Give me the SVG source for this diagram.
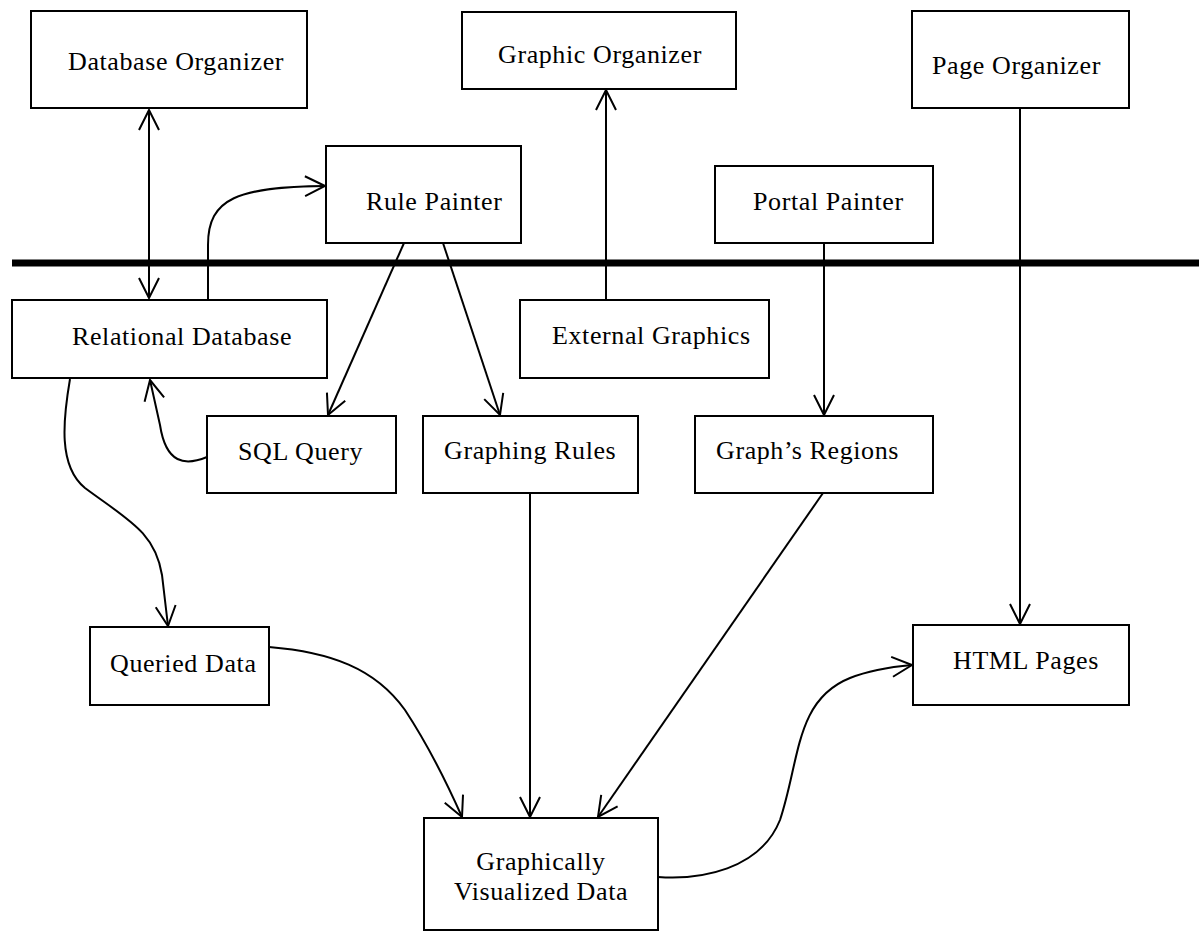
<svg xmlns="http://www.w3.org/2000/svg" width="1199" height="934" viewBox="0 0 1199 934">
<defs>
<style>
.box{fill:#fff;stroke:#000;stroke-width:2}
.lbl{font-family:"Liberation Serif","Times New Roman",serif;font-size:26px;letter-spacing:0.6px;fill:#000}
.c{fill:none;stroke:#000;stroke-width:2}
</style>
<marker id="ah" viewBox="-22 -12 24 24" refX="0" refY="0" markerWidth="24" markerHeight="24" markerUnits="userSpaceOnUse" orient="auto-start-reverse">
<path d="M-20,-10 L0,0 L-20,10" fill="none" stroke="#000" stroke-width="2"/>
</marker>
</defs>
<rect width="1199" height="934" fill="#fff"/>
<line x1="12" y1="263" x2="1199" y2="263" stroke="#000" stroke-width="7"/>
<g id="connectors">
<line class="c" x1="149" y1="110" x2="149" y2="298" marker-start="url(#ah)" marker-end="url(#ah)"/>
<path class="c" d="M208,300 V245 C208,198 238,187 325,186" marker-end="url(#ah)"/>
<line class="c" x1="606" y1="300" x2="606" y2="90" marker-end="url(#ah)"/>
<line class="c" x1="824" y1="243" x2="824" y2="415" marker-end="url(#ah)"/>
<line class="c" x1="1020" y1="108" x2="1020" y2="624" marker-end="url(#ah)"/>
<line class="c" x1="404" y1="243" x2="328" y2="415" marker-end="url(#ah)"/>
<line class="c" x1="443" y1="243" x2="500" y2="415" marker-end="url(#ah)"/>
<path class="c" d="M207,457 C185,466 166,464 160,425 L150,380" marker-end="url(#ah)"/>
<path class="c" d="M70,379 C63,420 58,466 85,488 C128,520 155,532 162,575 L168,626" marker-end="url(#ah)"/>
<path class="c" d="M269,647 C330,652 375,668 405,710 C430,748 450,790 462,817" marker-end="url(#ah)"/>
<line class="c" x1="530" y1="493" x2="530" y2="817" marker-end="url(#ah)"/>
<line class="c" x1="823" y1="493" x2="598" y2="817" marker-end="url(#ah)"/>
<path class="c" d="M658,877 C700,880 760,870 780,820 C800,760 795,700 850,678 C870,670 890,667 912,665" marker-end="url(#ah)"/>
</g>
<g id="database-organizer"><rect class="box" x="31" y="11" width="276" height="97"/><text class="lbl" x="68" y="70">Database Organizer</text></g>
<g id="graphic-organizer"><rect class="box" x="462" y="12" width="274" height="77"/><text class="lbl" x="498" y="63">Graphic Organizer</text></g>
<g id="page-organizer"><rect class="box" x="912" y="11" width="217" height="97"/><text class="lbl" x="932" y="74">Page Organizer</text></g>
<g id="rule-painter"><rect class="box" x="326" y="146" width="195" height="97"/><text class="lbl" x="366" y="210">Rule Painter</text></g>
<g id="portal-painter"><rect class="box" x="715" y="166" width="218" height="77"/><text class="lbl" x="753" y="210">Portal Painter</text></g>
<g id="relational-database"><rect class="box" x="12" y="300" width="315" height="78"/><text class="lbl" x="72" y="345">Relational Database</text></g>
<g id="external-graphics"><rect class="box" x="520" y="300" width="249" height="78"/><text class="lbl" x="552" y="344">External Graphics</text></g>
<g id="sql-query"><rect class="box" x="207" y="416" width="189" height="77"/><text class="lbl" x="238" y="460">SQL Query</text></g>
<g id="graphing-rules"><rect class="box" x="423" y="416" width="215" height="77"/><text class="lbl" x="444" y="459">Graphing Rules</text></g>
<g id="graphs-regions"><rect class="box" x="695" y="416" width="238" height="77"/><text class="lbl" x="716" y="459">Graph’s Regions</text></g>
<g id="queried-data"><rect class="box" x="90" y="627" width="179" height="78"/><text class="lbl" x="110" y="672">Queried Data</text></g>
<g id="html-pages"><rect class="box" x="913" y="625" width="216" height="80"/><text class="lbl" x="953" y="669">HTML Pages</text></g>
<g id="graphically-visualized-data"><rect class="box" x="424" y="818" width="234" height="112"/><text class="lbl" x="541" y="870" text-anchor="middle">Graphically</text><text class="lbl" x="541" y="900" text-anchor="middle">Visualized Data</text></g>
</svg>
